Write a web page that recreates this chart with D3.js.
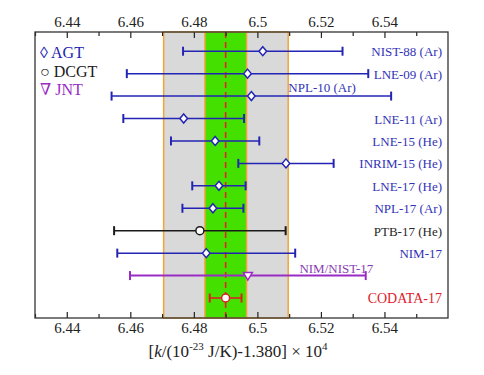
<!DOCTYPE html>
<html>
<head>
<meta charset="utf-8">
<script src="https://cdn.jsdelivr.net/npm/d3@7"></script>
<style>
    body { margin: 0; background: #fff; }
</style>
</head>
<body>
<svg id="chart" width="484" height="375"></svg>
<script>
// measurements, k values (x 10^4 offset form)
var names = ["NIST-88 (Ar)", "LNE-09 (Ar)", "NPL-10 (Ar)", "LNE-11 (Ar)", "LNE-15 (He)", "INRIM-15 (He)",
    "LNE-17 (He)", "NPL-17 (Ar)", "PTB-17 (He)", "NIM-17", "NIM/NIST-17", "CODATA-17"];
var values = [6.5017, 6.4969, 6.4981, 6.4768, 6.4867, 6.5090, 6.4879, 6.4860, 6.4819, 6.4839, 6.4970, 6.4900];
var errors = [0.0251, 0.0380, 0.0440, 0.0190, 0.0139, 0.0150, 0.0084, 0.0096, 0.0270, 0.0280, 0.0371, 0.0050];
var methods = ["AGT", "AGT", "AGT", "AGT", "AGT", "AGT", "AGT", "AGT", "DCGT", "AGT", "JNT", "CODATA"];
var xTicks = [6.44, 6.46, 6.48, 6.5, 6.52, 6.54];
var minorTicks = [6.43, 6.45, 6.47, 6.49, 6.51, 6.53, 6.55];
var codataValue = 6.49;
var bandWide = [6.4705, 6.5097];
var bandNarrow = [6.4835, 6.4966];
var legendItems = [["\u25CA", "AGT"], ["\u25CB", "DCGT"], ["\u2207", "JNT"]];

var colors = { "AGT": "#2424b4", "DCGT": "#1a1a1a", "JNT": "#9a2cc4", "CODATA": "#e01b24" };
var labelColors = { "AGT": "#3232b8", "DCGT": "#262626", "JNT": "#8a3cb4", "CODATA": "#e0202a" };
var serif = "'Liberation Serif', 'Times New Roman', 'DejaVu Serif', serif";

var svg = d3.select("#chart");
var mLeft = 35, mRight = 448, mTop = 32, mBottom = 318;

var x = d3.scaleLinear().domain([6.43, 6.56]).range([mLeft, mRight]);
var y = d3.scalePoint().domain(names).range([51.2, 298]);

// bands
svg.append("rect")
    .attr("x", x(bandWide[0]))
    .attr("y", mTop)
    .attr("width", x(bandWide[1]) - x(bandWide[0]))
    .attr("height", mBottom - mTop)
    .attr("fill", "#d9d9d9")
    .attr("stroke", "#f2a43a")
    .attr("stroke-width", 1.5);
svg.append("rect")
    .attr("x", x(bandNarrow[0]))
    .attr("y", mTop)
    .attr("width", x(bandNarrow[1]) - x(bandNarrow[0]))
    .attr("height", mBottom - mTop)
    .attr("fill", "#44e000")
    .attr("stroke", "#f2a43a")
    .attr("stroke-width", 1.5);
svg.append("line")
    .attr("x1", x(codataValue))
    .attr("x2", x(codataValue))
    .attr("y1", mTop)
    .attr("y2", mBottom)
    .attr("stroke", "#e8202a")
    .attr("stroke-width", 1.6)
    .attr("stroke-dasharray", "6,4");

// axes (ticks point inward)
var fmt = function (d) { return String(+d.toFixed(2)); };
svg.append("g")
    .attr("transform", "translate(0," + mTop + ")")
    .call(d3.axisTop(x).tickValues(xTicks).tickSizeInner(-6).tickSizeOuter(0).tickPadding(5).tickFormat(fmt));
svg.append("g")
    .attr("transform", "translate(0," + mBottom + ")")
    .call(d3.axisBottom(x).tickValues(xTicks).tickSizeInner(-6).tickSizeOuter(0).tickPadding(4).tickFormat(fmt));
svg.append("g")
    .attr("transform", "translate(0," + mTop + ")")
    .call(d3.axisTop(x).tickValues(minorTicks).tickSizeInner(-4).tickSizeOuter(0).tickFormat(""));
svg.append("g")
    .attr("transform", "translate(0," + mBottom + ")")
    .call(d3.axisBottom(x).tickValues(minorTicks).tickSizeInner(-4).tickSizeOuter(0).tickFormat(""));
svg.selectAll(".domain").remove();
svg.selectAll(".tick line").attr("stroke", "#222").attr("stroke-width", 1.2);
svg.selectAll(".tick text")
    .attr("font-size", 15)
    .attr("fill", "#222");

svg.append("rect")
    .attr("x", mLeft)
    .attr("y", mTop)
    .attr("width", mRight - mLeft)
    .attr("height", mBottom - mTop)
    .attr("fill", "none")
    .attr("stroke", "#333")
    .attr("stroke-width", 1.3);

// error bars
svg.append("g")
    .attr("id", "rows")
    .selectAll("g")
    .data(names)
    .enter()
    .append("g")
    .each(function (d, i) {
        var g = d3.select(this);
        var c = colors[methods[i]];
        var cy = y(d);
        var lo = x(values[i] - errors[i]), hi = x(values[i] + errors[i]);
        g.append("line")
            .attr("x1", lo).attr("x2", hi)
            .attr("y1", cy).attr("y2", cy)
            .attr("stroke", c)
            .attr("stroke-width", methods[i] == "JNT" ? 2 : 1.5);
        [lo, hi].forEach(function (px) {
            g.append("line")
                .attr("x1", px).attr("x2", px)
                .attr("y1", cy - 4.5).attr("y2", cy + 4.5)
                .attr("stroke", c)
                .attr("stroke-width", 2);
        });
        var cx = x(values[i]);
        if (methods[i] == "AGT") {
            g.append("path")
                .attr("d", "M" + cx + "," + (cy - 4.5) + "L" + (cx + 3.8) + "," + cy + "L" + cx + "," + (cy + 4.5) + "L" + (cx - 3.8) + "," + cy + "Z")
                .attr("fill", "#fff")
                .attr("stroke", c)
                .attr("stroke-width", 1.5);
        } else if (methods[i] == "JNT") {
            g.append("path")
                .attr("d", "M" + (cx - 4.5) + "," + (cy - 3) + "L" + (cx + 4.5) + "," + (cy - 3) + "L" + cx + "," + (cy + 4.5) + "Z")
                .attr("fill", "#fff")
                .attr("stroke", c)
                .attr("stroke-width", 1.5);
        } else {
            g.append("circle")
                .attr("cx", cx).attr("cy", cy)
                .attr("r", 4)
                .attr("fill", "#fff")
                .attr("stroke", c)
                .attr("stroke-width", 1.5);
        }
        // labels: two of them sit above their bar
        var lbl = g.append("text")
            .attr("text-anchor", "end")
            .attr("font-size", 13)
            .attr("fill", labelColors[methods[i]])
            .text(d);
        if (d == "NPL-10 (Ar)") {
            lbl.attr("x", x(6.531)).attr("y", cy - 4);
        } else if (d == "NIM/NIST-17") {
            lbl.attr("x", x(6.5365)).attr("y", cy - 3);
        } else if (d == "CODATA-17") {
            lbl.attr("x", 442).attr("y", cy + 5).attr("font-size", 14);
        } else {
            lbl.attr("x", 442).attr("y", cy + 5);
        }
    });

// legend
svg.append("g")
    .attr("id", "legend")
    .selectAll("text")
    .data(legendItems)
    .enter()
    .append("text")
    .attr("x", 40)
    .attr("y", function (d, i) { return 58 + i * 18.5; })
    .attr("font-size", 16)
    .attr("fill", function (d) { return colors[d[1]]; })
    .text(function (d) { return d[0] + " " + d[1]; });

// x axis title
var title = svg.append("text")
    .attr("x", 238)
    .attr("y", 357)
    .attr("text-anchor", "middle")
    .attr("font-size", 17)
    .attr("fill", "#222");
title.append("tspan").text("[");
title.append("tspan").attr("font-style", "italic").text("k");
title.append("tspan").text("/(10");
title.append("tspan").attr("dy", -7).attr("font-size", 11).text("-23");
title.append("tspan").attr("dy", 7).text(" J/K)-1.380] \u00D7 10");
title.append("tspan").attr("dy", -7).attr("font-size", 11).text("4");

svg.selectAll("text").style("font-family", serif);
</script>
</body>
</html>
